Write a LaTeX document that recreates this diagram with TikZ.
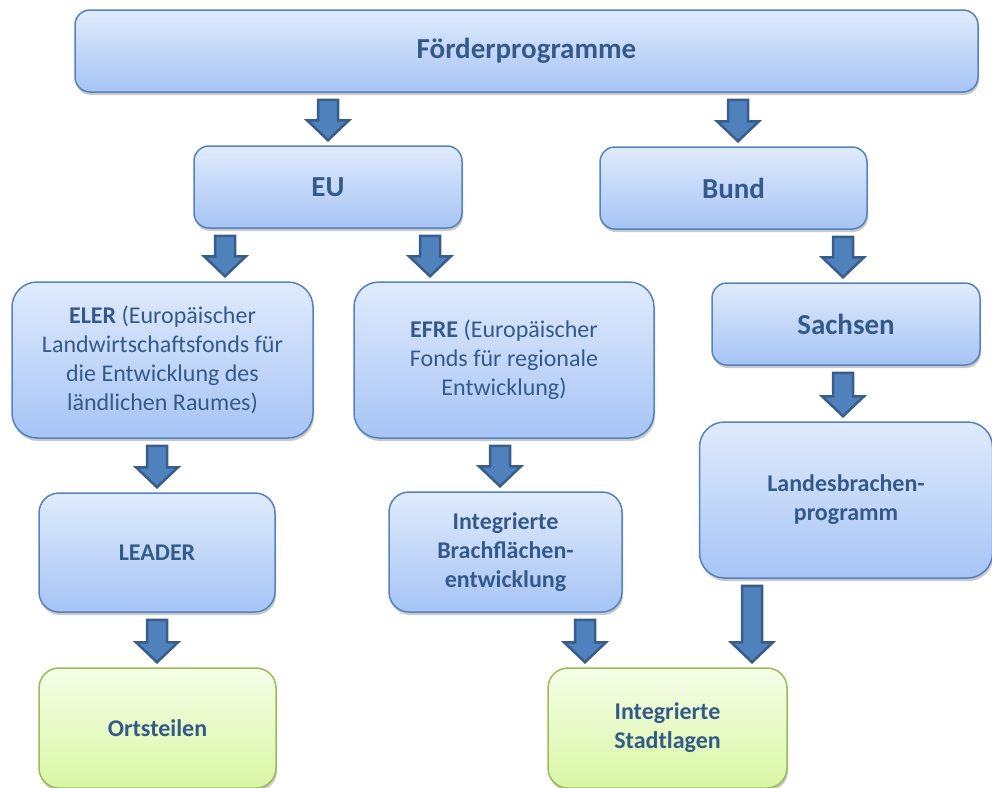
\documentclass[tikz,border=0pt]{standalone}
\usepackage{fontspec}
\setmainfont{Carlito}
\usetikzlibrary{shadows,calc}
\definecolor{txt}{RGB}{52,90,138}
\definecolor{bluetop}{RGB}{224,235,252}
\definecolor{bluebot}{RGB}{166,196,245}
\definecolor{blueline}{RGB}{84,130,190}
\definecolor{greentop}{RGB}{246,254,232}
\definecolor{greenbot}{RGB}{216,246,164}
\definecolor{greenline}{RGB}{155,187,89}
\definecolor{arrfill}{RGB}{79,129,189}
\definecolor{arrline}{RGB}{56,93,138}
\tikzset{
  basebox/.style={line width=1.5pt, text=txt, align=center, inner sep=0pt,
    drop shadow={shadow xshift=1pt, shadow yshift=-3pt, opacity=0.3, fill=black!70}},
  bluebox/.style={basebox, draw=blueline, top color=bluetop, bottom color=bluebot, rounded corners=#1},
  greenbox/.style={basebox, draw=greenline, top color=greentop, bottom color=greenbot, rounded corners=#1},
  big/.style={font=\fontsize{29}{34}\selectfont\bfseries},
  small/.style={font=\fontsize{24}{29}\selectfont},
  smallb/.style={font=\fontsize{24}{29}\selectfont\bfseries},
  blockarrow/.style={draw=arrline, line width=2.5pt, fill=arrfill, line join=miter,
    to path={let \p1=(\tikztostart), \p2=(\tikztotarget) in
      (\x1-10pt,\y1-7pt) -- (\x1+10pt,\y1-7pt) -- (\x1+10pt,\y2+25pt) -- (\x1+21pt,\y2+25pt)
      -- (\x1,\y2+5pt) -- (\x1-21pt,\y2+25pt) -- (\x1-10pt,\y2+25pt) -- cycle}}
}
\begin{document}
\begin{tikzpicture}[x=1pt,y=-1pt]
\useasboundingbox (0,0) rectangle (992,787);
\node[bluebox=15pt, big, minimum width=903pt, minimum height=82pt] (fp) at (526.5,51) {Förderprogramme};
\node[bluebox=15pt, big, minimum width=268pt, minimum height=82pt] (eu) at (328,187) {EU};
\node[bluebox=15pt, big, minimum width=267pt, minimum height=82pt] (bund) at (733.5,188) {Bund};
\node[bluebox=25pt, small, minimum width=301pt, minimum height=156pt] (eler) at (162.5,360)
  {\textbf{ELER} (Europäischer\\Landwirtschaftsfonds für\\die Entwicklung des\\ländlichen Raumes)};
\node[bluebox=25pt, small, minimum width=300pt, minimum height=156pt] (efre) at (504,360)
  {\textbf{EFRE} (Europäischer\\Fonds für regionale\\Entwicklung)};
\node[bluebox=15pt, big, minimum width=268pt, minimum height=82pt] (sachsen) at (846,324) {Sachsen};
\node[bluebox=20pt, smallb, minimum width=236pt, minimum height=119pt] (leader) at (157,552.5) {LEADER};
\node[bluebox=20pt, smallb, minimum width=233pt, minimum height=120pt] (brach) at (505.5,552)
  {Integrierte\\Brachflächen-\\entwicklung};
\node[bluebox=25pt, smallb, minimum width=293pt, minimum height=156pt] (landes) at (846,500)
  {Landesbrachen-\\programm};
\node[greenbox=20pt, smallb, minimum width=237pt, minimum height=120pt] (orts) at (157.5,728) {Ortsteilen};
\node[greenbox=20pt, smallb, minimum width=239pt, minimum height=120pt] (stadt) at (667.5,728)
  {Integrierte\\Stadtlagen};
% block arrows
\draw[blockarrow] (fp.south -| eu.north) to (eu.north);
\draw[blockarrow] ([xshift=4.5pt]fp.south -| bund.north) to (bund.north);
\draw[blockarrow] ([xshift=-103pt]eu.south) to (eler.north);
\draw[blockarrow] ([xshift=102pt]eu.south) to (efre.north);
\draw[blockarrow] ([xshift=109.5pt]bund.south) to (sachsen.north);
\draw[blockarrow] ([xshift=-5.5pt]eler.south) to (leader.north);
\draw[blockarrow] ([xshift=-4pt]efre.south) to (brach.north);
\draw[blockarrow] ([xshift=-3pt]sachsen.south) to (landes.north);
\draw[blockarrow] (leader.south) to (orts.north);
\draw[blockarrow] ([xshift=79.5pt]brach.south) to (stadt.north);
\draw[blockarrow] ([xshift=-94pt]landes.south) to (stadt.north);
\end{tikzpicture}
\end{document}
